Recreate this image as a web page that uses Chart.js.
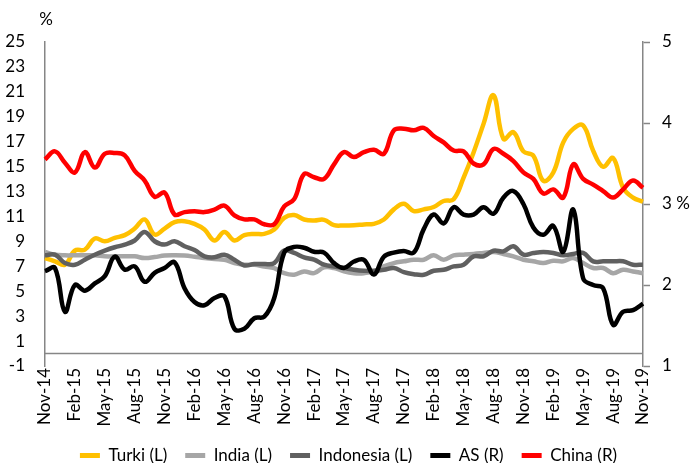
<!DOCTYPE html>
<html>
<head>
<meta charset="utf-8">
<script src="https://cdn.jsdelivr.net/npm/chart.js@4.4.1/dist/chart.umd.min.js"></script>
<style>
  html, body { margin: 0; padding: 0; background: #fff; }
  #wrap { width: 692px; height: 463px; }
</style>
</head>
<body>
<div id="wrap"><canvas id="yields"></canvas></div>
<script>
var months = [
  "Nov-14","Dec-14","Jan-15","Feb-15","Mar-15","Apr-15","May-15","Jun-15","Jul-15","Aug-15","Sep-15","Oct-15",
  "Nov-15","Dec-15","Jan-16","Feb-16","Mar-16","Apr-16","May-16","Jun-16","Jul-16","Aug-16","Sep-16","Oct-16",
  "Nov-16","Dec-16","Jan-17","Feb-17","Mar-17","Apr-17","May-17","Jun-17","Jul-17","Aug-17","Sep-17","Oct-17",
  "Nov-17","Dec-17","Jan-18","Feb-18","Mar-18","Apr-18","May-18","Jun-18","Jul-18","Aug-18","Sep-18","Oct-18",
  "Nov-18","Dec-18","Jan-19","Feb-19","Mar-19","Apr-19","May-19","Jun-19","Jul-19","Aug-19","Sep-19","Oct-19",
  "Nov-19"
];

// left axis (%)
var turki = [7.66,7.40,7.13,8.26,8.34,9.23,9.01,9.28,9.50,10.03,10.76,9.55,
  10.03,10.54,10.62,10.40,9.95,9.07,9.76,9.07,9.50,9.60,9.60,9.95,
  10.89,11.11,10.76,10.68,10.73,10.30,10.28,10.30,10.36,10.41,10.76,11.57,
  12.02,11.43,11.57,11.76,12.24,12.38,14.12,16.14,18.43,20.72,17.22,17.76,
  16.22,15.87,13.86,14.53,16.95,18.03,18.30,16.28,14.99,15.69,13.31,12.51,
  12.18];
var india = [8.15,7.93,7.88,7.88,7.88,7.88,7.80,7.80,7.80,7.80,7.66,7.74,
  7.86,7.88,7.86,7.77,7.66,7.58,7.53,7.26,7.13,7.13,6.99,6.86,
  6.45,6.32,6.59,6.45,6.91,6.86,6.59,6.45,6.45,6.59,6.99,7.26,
  7.40,7.53,7.53,7.88,7.53,7.88,7.93,7.99,8.07,8.15,7.99,7.80,
  7.53,7.40,7.26,7.45,7.40,7.66,7.26,6.86,6.86,6.45,6.72,6.59,
  6.45];
var indonesia = [7.88,7.93,7.26,7.13,7.53,7.93,8.26,8.53,8.74,9.07,9.76,9.01,
  8.74,9.01,8.61,8.30,7.80,7.72,7.93,7.53,7.07,7.18,7.18,7.26,
  8.26,8.07,7.72,7.53,7.13,6.99,6.86,6.72,6.64,6.64,6.72,6.86,
  6.53,6.37,6.32,6.64,6.72,6.99,7.13,7.80,7.80,8.25,8.20,8.61,
  7.93,8.07,8.15,8.07,7.88,7.99,8.07,7.40,7.40,7.40,7.40,7.13,
  7.13];

// right axis (%)
var as = [2.17,2.21,1.67,2.00,1.93,2.02,2.11,2.35,2.19,2.23,2.04,2.15,
  2.21,2.28,1.96,1.79,1.75,1.84,1.86,1.46,1.46,1.59,1.61,1.84,
  2.40,2.47,2.46,2.41,2.40,2.27,2.21,2.29,2.31,2.13,2.35,2.40,
  2.42,2.40,2.69,2.87,2.76,2.96,2.87,2.87,2.96,2.88,3.08,3.16,
  3.00,2.71,2.62,2.73,2.41,2.93,2.08,2.00,1.96,1.51,1.67,1.69,
  1.77];
var china = [3.55,3.65,3.51,3.39,3.64,3.45,3.62,3.63,3.60,3.41,3.29,3.09,
  3.14,2.87,2.90,2.91,2.90,2.93,2.98,2.86,2.81,2.81,2.75,2.75,
  2.97,3.06,3.37,3.33,3.31,3.49,3.64,3.58,3.64,3.67,3.62,3.91,
  3.93,3.91,3.94,3.84,3.76,3.66,3.65,3.50,3.49,3.68,3.62,3.53,
  3.39,3.31,3.13,3.18,3.08,3.49,3.31,3.24,3.16,3.08,3.18,3.29,
  3.20];

var leftTicks = { min: -1, max: 25, step: 2 };
var rightTicks = { min: 1, max: 5, step: 1 };

var axisGrey = "#868686";
var font = { family: "Lato", size: 17 };

function line(label, data, color, axis, order) {
  return {
    label: label,
    data: data,
    borderColor: color,
    backgroundColor: color,
    borderWidth: 4.5,
    pointRadius: 0,
    tension: 0.4,
    yAxisID: axis,
    order: order
  };
}

// x axis crosses the left axis at 0, like the original
var zeroLine = {
  id: "zeroLine",
  beforeDatasetsDraw: function(chart) {
    var c = chart.ctx, a = chart.chartArea;
    var y = chart.scales.yL.getPixelForValue(0);
    c.save();
    c.strokeStyle = axisGrey;
    c.lineWidth = 1.5;
    c.beginPath();
    c.moveTo(a.left, y);
    c.lineTo(a.right, y);
    c.stroke();
    c.restore();
  },
  afterDraw: function(chart) {
    var c = chart.ctx, a = chart.chartArea;
    c.save();
    c.fillStyle = "#000";
    c.font = "17px Lato";
    c.textAlign = "center";
    c.textBaseline = "middle";
    c.fillText("%", a.left + 1, a.top - 22);
    c.restore();
  }
};

new Chart(document.getElementById("yields"), {
  type: "line",
  data: {
    labels: months,
    datasets: [
      line("Turki (L)", turki, "#FFC000", "yL", 5),
      line("India (L)", india, "#A6A6A6", "yL", 4),
      line("Indonesia (L)", indonesia, "#606060", "yL", 3),
      line("AS (R)", as, "#000000", "yR", 2),
      line("China (R)", china, "#FF0000", "yR", 1)
    ]
  },
  plugins: [zeroLine],
  options: {
    responsive: true,
    maintainAspectRatio: false,
    animation: false,
    layout: { padding: { left: 5, right: 0, top: 42, bottom: -11 } },
    scales: {
      x: {
        grid: { display: false, drawTicks: false },
        border: { display: false },
        afterFit: function(s) { s.height = 63; },
        ticks: {
          autoSkip: false,
          maxRotation: 90,
          minRotation: 90,
          padding: 2,
          color: "#000",
          font: font,
          callback: function(v, i) { return i % 3 === 0 ? months[i] : ""; }
        }
      },
      yL: {
        position: "left",
        min: leftTicks.min,
        max: leftTicks.max,
        grid: { display: false, drawTicks: false },
        border: { display: true, color: axisGrey, width: 1.5 },
        afterFit: function(s) { s.width = 40; },
        ticks: { stepSize: leftTicks.step, padding: 20, color: "#000", font: font }
      },
      yR: {
        position: "right",
        min: rightTicks.min,
        max: rightTicks.max,
        grid: { drawOnChartArea: false, drawTicks: true, tickLength: 7, color: axisGrey, tickWidth: 1.5 },
        border: { display: true, color: axisGrey, width: 1.5 },
        afterFit: function(s) { s.width = 49; },
        ticks: {
          stepSize: rightTicks.step,
          padding: 12,
          color: "#000",
          font: font,
          callback: function(v) { return v === 3 ? "3 %" : String(v); }
        }
      }
    },
    plugins: {
      tooltip: { enabled: false },
      legend: {
        position: "bottom",
        labels: {
          boxWidth: 20,
          boxHeight: 5,
          padding: 18,
          color: "#000",
          font: font,
          sort: function(a, b) { return a.datasetIndex - b.datasetIndex; },
          generateLabels: function(chart) {
            return Chart.defaults.plugins.legend.labels.generateLabels(chart).map(function(l) {
              l.lineWidth = 0;
              return l;
            });
          }
        }
      }
    }
  }
});
</script>
</body>
</html>
